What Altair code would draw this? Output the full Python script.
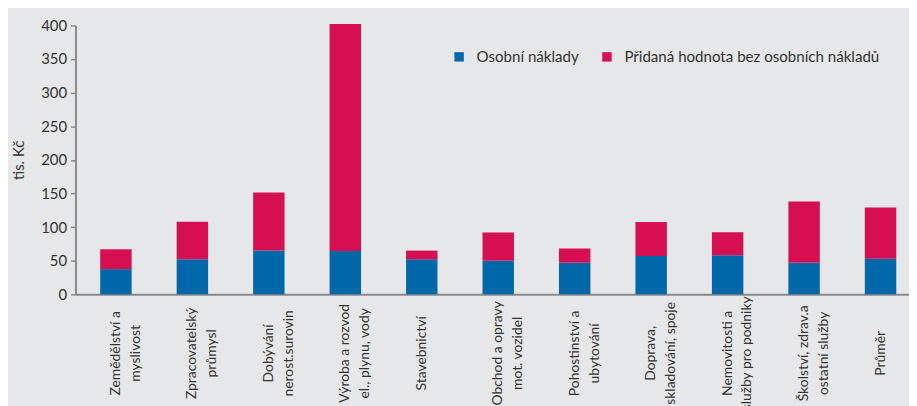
import altair as alt
import pandas as pd

categories = [
    "Zemědělství a|myslivost",
    "Zpracovatelský|průmysl",
    "Dobývání|nerost.surovin",
    "Výroba a rozvod|el., plynu, vody",
    "Stavebnictví",
    "Obchod a opravy|mot. vozidel",
    "Pohostinství a|ubytování",
    "Doprava,|skladování, spoje",
    "Nemovitosti a|služby pro podniky",
    "Školství, zdrav.a|ostatní služby",
    "Průměr",
]
osobni_naklady = [37.5, 52, 65, 64.5, 52, 50, 47, 57, 58, 47, 53]
pridana_bez_osobnich = [29.5, 56, 86.5, 337.5, 13, 42, 21, 50.5, 34.5, 91, 76]
series_names = ["Osobní náklady", "Přidaná hodnota bez osobních nákladů"]
series_colors = ["#0067a9", "#d60f52"]
y_ticks = [0, 50, 100, 150, 200, 250, 300, 350, 400]

rows = []
for c, a, b in zip(categories, osobni_naklady, pridana_bez_osobnich):
    rows.append({"kat": c, "serie": series_names[0], "hodnota": a, "poradi": 0})
    rows.append({"kat": c, "serie": series_names[1], "hodnota": b, "poradi": 1})
df = pd.DataFrame(rows)

axis_grey = "#8a8a8c"
text_col = "#333333"

chart = alt.Chart(df).mark_bar().encode(
    x=alt.X(
        "kat:N",
        sort=categories,
        scale=alt.Scale(paddingInner=0.589, paddingOuter=0.245, align=0.66),
        axis=alt.Axis(
            title=None,
            labelAngle=270,
            labelAlign="center",
            labelBaseline="middle",
            labelPadding=59,
            ticks=False,
            labelExpr="split(datum.label, '|')",
            labelFontSize=14,
            labelLineHeight=20,
            labelOverlap=False,
            labelColor=text_col,
            domainColor=axis_grey,
            domainWidth=2,
        ),
    ),
    y=alt.Y(
        "hodnota:Q",
        stack="zero",
        scale=alt.Scale(domain=[0, 400], nice=False),
        axis=alt.Axis(
            title="tis. Kč",
            values=y_ticks,
            grid=False,
            labelFontSize=15,
            labelColor=text_col,
            labelPadding=4,
            tickSize=5,
            tickColor=axis_grey,
            tickWidth=1.5,
            domainColor=axis_grey,
            domainWidth=2,
            titleFontSize=15,
            titleFontWeight="normal",
            titleColor=text_col,
            titlePadding=14,
        ),
    ),
    color=alt.Color(
        "serie:N",
        scale=alt.Scale(domain=series_names, range=series_colors),
        legend=alt.Legend(
            title=None,
            orient="none",
            legendX=379,
            legendY=24,
            direction="horizontal",
            symbolType="square",
            symbolSize=90,
            symbolStrokeWidth=0,
            labelFontSize=15.2,
            labelColor=text_col,
            labelOffset=10,
            columnPadding=20,
            padding=0,
            labelLimit=400,
        ),
    ),
    order=alt.Order("poradi:Q"),
).properties(
    width=840,
    height=271,
    background="#e6e7e9",
    padding={"left": 68, "top": 16, "right": 0, "bottom": 111},
    autosize=alt.AutoSizeParams(type="none"),
).configure(
    font="Lato",
).configure_view(
    stroke=None,
)

chart.save("out.html", embed_options={"renderer": "svg", "actions": False})
